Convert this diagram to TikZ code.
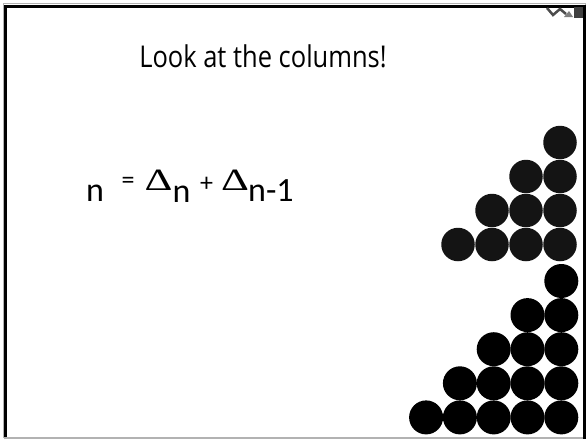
\documentclass[tikz,border=0pt]{standalone}
\usepackage{fontspec}
\setmainfont{Carlito}
\newfontfamily\titlefont[FakeStretch=0.85]{Open Sans}
\newfontfamily\deltafont{Liberation Serif}
\begin{document}
\begin{tikzpicture}[x=1pt,y=-1pt,
  dotA/.style={circle,fill=black!92,minimum size=33.5pt,inner sep=0pt},
  dotB/.style={circle,fill=black,minimum size=34pt,inner sep=0pt},
  txt/.style={inner sep=0pt,anchor=base west},
  big/.style={font=\fontsize{34}{40}\selectfont},
  dl/.style={font=\deltafont\fontsize{31}{36}\selectfont},
  small/.style={font=\fontsize{26}{30}\selectfont}]
\useasboundingbox (0,0) rectangle (586,439);
\fill[white] (0,0) rectangle (586,439);
% frame
\draw[gray!60,line width=1pt] (3,3.5) rectangle (585.5,437.5);
\draw[black,line width=3pt] (5.5,439) -- (5.5,6) -- (584.5,6) -- (584.5,439);
\draw[gray!60,line width=1.5pt] (4,437.8) -- (583,437.8);
% corner icon
\fill[black!75] (574,7) rectangle (583,18);
\draw[black!70,line width=2.5pt] (547,8) -- (553,15) -- (560,9) -- (566,14);
\fill[black!50] (564,17) -- (573,17) -- (569,11) -- cycle;
% title
\node[inner sep=0pt,anchor=base] (title) at (263,67) {\titlefont\fontsize{30}{36}\selectfont Look at the columns!};
% formula
\node[txt,big] (n0) at (86,201.7) {n};
\node[txt,small] (eq) at (121.5,188.5) {=};
\node[txt,dl] (d1) at (144.5,190) {\scalebox{1.4}[1]{Δ}};
\node[txt,big] (s1) at (172.5,202.3) {n};
\node[txt,small] (pl) at (200,191) {+};
\node[txt,dl] (d2) at (221,190) {\scalebox{1.4}[1]{Δ}};
\node[txt,big] (s2) at (248,201.7) {n-1};
% upper triangle (4 rows)
\foreach \r in {1,...,4}{
  \foreach \c in {1,...,\r}{
    \node[dotA] (a\r\c) at ({560-34*(\c-1)},{142.5+34*(\r-1)}) {};
  }
}
% lower triangle (5 rows)
\foreach \r in {1,...,5}{
  \foreach \c in {1,...,\r}{
    \node[dotB] (b\r\c) at ({561.3-33.8*(\c-1)},{281+34.1*(\r-1)}) {};
  }
}
\end{tikzpicture}
\end{document}
